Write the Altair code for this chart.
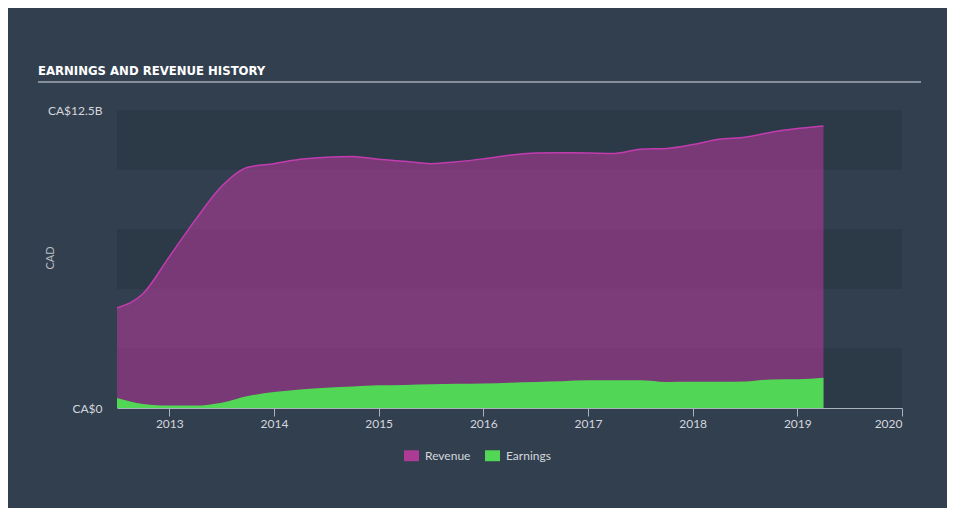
import altair as alt
import pandas as pd

# ---- data (values in CA$ billions) ----
YEARS = [2012.5, 2012.75, 2013.0, 2013.25, 2013.5, 2013.75,
         2014.0, 2014.25, 2014.5, 2014.75, 2015.0, 2015.25, 2015.5, 2015.75,
         2016.0, 2016.25, 2016.5, 2016.75, 2017.0, 2017.25, 2017.5, 2017.75,
         2018.0, 2018.25, 2018.5, 2018.75, 2019.0, 2019.25]
REVENUE = [4.2, 4.8, 6.35, 7.9, 9.3, 10.1,
           10.25, 10.43, 10.52, 10.55, 10.43, 10.35, 10.25, 10.33,
           10.45, 10.6, 10.7, 10.71, 10.7, 10.68, 10.85, 10.89,
           11.05, 11.27, 11.36, 11.57, 11.72, 11.83]
EARNINGS = [0.42, 0.17, 0.1, 0.1, 0.22, 0.5,
            0.67, 0.78, 0.85, 0.9, 0.95, 0.97, 1.0, 1.02,
            1.03, 1.06, 1.09, 1.12, 1.16, 1.16, 1.16, 1.09,
            1.1, 1.1, 1.11, 1.2, 1.21, 1.27]
SERIES = ["Revenue", "Earnings"]
X_TICKS = [2013, 2014, 2015, 2016, 2017, 2018, 2019, 2020]
Y_TICKS = [0, 12.5]
BAND_LO = [0, 5, 10]
BAND_HI = [2.5, 7.5, 12.5]
TITLE = "EARNINGS AND REVENUE HISTORY"
Y_TITLE = "CAD"

rev_df = pd.DataFrame({"year": YEARS, "value": REVENUE, "series": "Revenue"})
earn_df = pd.DataFrame({"year": YEARS, "value": EARNINGS, "series": "Earnings"})
band_df = pd.DataFrame({"lo": BAND_LO, "hi": BAND_HI})

W, H = 785, 298
LABEL_COLOR = "#d3d7dc"
FONT = "Lato"

x_scale = alt.Scale(domain=[2012.5, 2020], nice=False, zero=False)
y_scale = alt.Scale(domain=[0, 12.5], nice=False)

x_axis = alt.Axis(values=X_TICKS, format="d", title=None, grid=False,
                  domainColor="#aab2bb", domainWidth=1, tickColor="#aab2bb",
                  tickSize=8, labelPadding=2, labelFlush=True,
                  labelFont=FONT, labelFontSize=12, labelColor=LABEL_COLOR)
y_axis = alt.Axis(values=Y_TICKS, title=None, grid=False, domain=False, ticks=False,
                  labelPadding=15, labelFont=FONT, labelFontSize=12,
                  labelColor=LABEL_COLOR, labelBaseline="middle",
                  labelExpr="datum.value == 0 ? 'CA$0' : 'CA$' + datum.value + 'B'")

color = alt.Color(
    "series:N",
    scale=alt.Scale(domain=SERIES, range=["#ad3b96", "#52d655"]),
    legend=alt.Legend(title=None, orient="none", legendX=287, legendY=338,
                      direction="horizontal", padding=0,
                      symbolType="M-1,-0.73H1V0.73H-1Z", symbolSize=225,
                      symbolStrokeWidth=0, symbolOpacity=1,
                      labelFont=FONT, labelFontSize=12, labelColor=LABEL_COLOR,
                      columnPadding=14, labelOffset=6),
)

bands = alt.Chart(band_df).mark_rect(color="#2c3947").encode(
    y=alt.Y("lo:Q", scale=y_scale, axis=y_axis),
    y2="hi:Q",
    x=alt.value(0), x2=alt.value(W),
)

rev_area = alt.Chart(rev_df).mark_area(interpolate="monotone", fillOpacity=0.6).encode(
    x=alt.X("year:Q", scale=x_scale, axis=x_axis),
    y=alt.Y("value:Q", scale=y_scale, axis=y_axis),
    color=color,
)

rev_line = alt.Chart(rev_df).mark_line(interpolate="monotone", color="#c23cb0",
                                       strokeWidth=1.5).encode(
    x=alt.X("year:Q", scale=x_scale, axis=x_axis),
    y=alt.Y("value:Q", scale=y_scale, axis=y_axis),
)

earn_area = alt.Chart(earn_df).mark_area(interpolate="monotone", fillOpacity=1).encode(
    x=alt.X("year:Q", scale=x_scale, axis=x_axis),
    y=alt.Y("value:Q", scale=y_scale, axis=y_axis),
    color=color,
)

title_txt = alt.Chart(pd.DataFrame({"t": [TITLE]})).mark_text(
    align="left", baseline="alphabetic",
    font="DejaVu Sans Condensed, DejaVu Sans, sans-serif",
    fontWeight="bold", fontSize=13, color="#ffffff",
).encode(x=alt.value(-79), y=alt.value(-35.5), text="t:N")

underline = alt.Chart(pd.DataFrame({"a": [0]})).mark_rule(
    color="#a4abb3", strokeWidth=1.5
).encode(x=alt.value(-79), x2=alt.value(804), y=alt.value(-28))

ytitle_txt = alt.Chart(pd.DataFrame({"t": [Y_TITLE]})).mark_text(
    align="center", baseline="middle", angle=270, font=FONT, fontSize=11,
    color="#b8bec5",
).encode(x=alt.value(-66), y=alt.value(148), text="t:N")

chart = alt.layer(bands, rev_area, rev_line, earn_area, title_txt, underline, ytitle_txt).properties(
    width=W, height=H,
    autosize=alt.AutoSizeParams(type="none"),
    padding={"left": 109, "top": 102, "right": 45, "bottom": 100},
    background="#323f4f",
).configure_view(strokeWidth=0)

chart.save("out.html", embed_options={"renderer": "svg", "actions": False})
